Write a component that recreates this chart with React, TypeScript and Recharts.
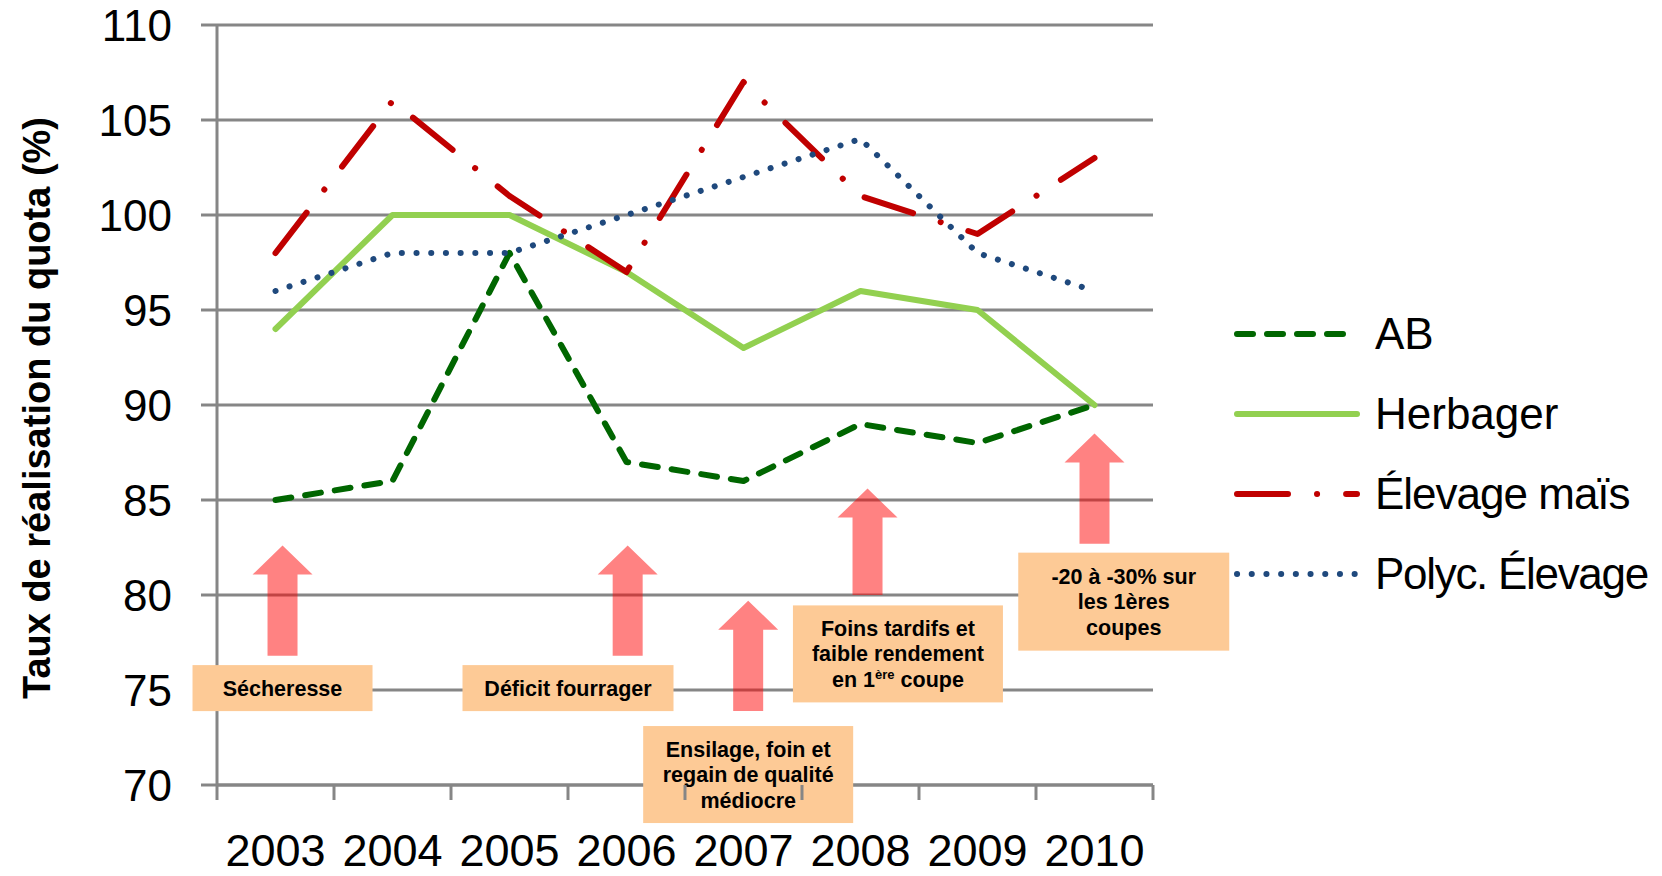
import React from "react";
import {
  LineChart,
  Line,
  XAxis,
  YAxis,
  CartesianGrid,
  ReferenceLine,
  ReferenceDot,
  Legend,
} from "recharts";

const years = ["2003", "2004", "2005", "2006", "2007", "2008", "2009", "2010"];
const ab = [85, 86, 98, 87, 86, 89, 88, 90];
const herbager = [94, 100, 100, 97, 93, 96, 95, 90];
const elevageMais = [98, 106, 101, 97, 107, 101, 99, 103];
const polycElevage = [96, 98, 98, 100, 102, 104, 98, 96];
const yTicks = [70, 75, 80, 85, 90, 95, 100, 105, 110];

// annotation texts ("^" marks a superscript part)
const noteTexts = [
  ["Sécheresse"],
  ["Déficit fourrager"],
  ["Ensilage, foin et", "regain de qualité", "médiocre"],
  ["Foins tardifs et", "faible rendement", "en 1^ère^ coupe"],
  ["-20 à -30% sur", "les 1ères", "coupes"],
];
// arrow anchors in data units: x position, tip value, tail value
const arrowX = [0.56, 3.51, 4.54, 5.56, 7.5];
const arrowTip = [82.6, 82.6, 79.7, 85.6, 88.5];
const arrowTail = [76.8, 76.8, 73.9, 80.0, 82.7];
// box centres in data units
const boxX = [0.56, 3.0, 4.54, 5.82, 7.75];
const boxY = [75.1, 75.1, 70.55, 76.9, 79.65];
const boxW = [180, 211, 210, 210, 211];
const boxH = [46, 46, 97, 97, 98];

const series = [
  { key: "ab", name: "AB", color: "#006600", dash: "16 14" },
  { key: "herbager", name: "Herbager", color: "#92D050", dash: undefined },
  { key: "elevageMais", name: "Élevage maïs", color: "#C00000", dash: "51 29 0.1 29" },
  { key: "polycElevage", name: "Polyc. Élevage", color: "#1F497D", dash: "0.1 14.6" },
];
// the original squeezes the É, so tighten those labels a bit
const legendSpacing: Record<string, number> = {
  elevageMais: -1,
  polycElevage: -1.3,
};

const data = years.map((year, i) => ({
  x: i + 0.5,
  year,
  ab: ab[i],
  herbager: herbager[i],
  elevageMais: elevageMais[i],
  polycElevage: polycElevage[i],
}));

const xTicks = Array.from({ length: 17 }, (_, i) => i / 2);

const FONT = "'Liberation Sans', Arial, sans-serif";
const GRID = "#868686";

function XTick({ x, y, payload }: any) {
  const v = payload.value;
  if (Number.isInteger(v)) {
    return <line x1={x} y1={y} x2={x} y2={y + 15} stroke={GRID} strokeWidth={3} />;
  }
  return (
    <text x={x} y={y + 81} textAnchor="middle" fontSize={45} fontFamily={FONT} fill="#000">
      {years[Math.floor(v)]}
    </text>
  );
}

function AxisTitle({ viewBox }: any) {
  const cx = viewBox.x + 37;
  const cy = viewBox.y + viewBox.height / 2 + 3;
  return (
    <text
      x={cx}
      y={cy}
      transform={`rotate(-90 ${cx} ${cy})`}
      textAnchor="middle"
      dy="0.35em"
      fontSize={38}
      fontWeight="bold"
      fontFamily={FONT}
      fill="#000"
    >
      Taux de réalisation du quota (%)
    </text>
  );
}

function Arrow({ x1, y1, y2 }: any) {
  const head = 29;
  const hw = 30;
  const sw = 15;
  const pts = [
    [x1, y1],
    [x1 + hw, y1 + head],
    [x1 + sw, y1 + head],
    [x1 + sw, y2],
    [x1 - sw, y2],
    [x1 - sw, y1 + head],
    [x1 - hw, y1 + head],
  ]
    .map((p) => p.join(","))
    .join(" ");
  return <polygon points={pts} fill="#FF0000" fillOpacity={0.49} />;
}

function NoteLine({ text, x, y }: any) {
  const parts = text.split("^");
  return (
    <text x={x} y={y} textAnchor="middle" dy="0.35em" fontSize={21.5} fontWeight="bold" fontFamily={FONT} fill="#000">
      {parts.length === 1 ? (
        text
      ) : (
        <>
          <tspan>{parts[0]}</tspan>
          <tspan fontSize={13} dy={-8}>{parts[1]}</tspan>
          <tspan dy={8}>{parts[2]}</tspan>
        </>
      )}
    </text>
  );
}

function NoteBox({ cx, cy, idx }: any) {
  const w = boxW[idx];
  const h = boxH[idx];
  const lines = noteTexts[idx];
  const lh = 25.5;
  return (
    <g>
      <rect x={cx - w / 2} y={cy - h / 2} width={w} height={h} fill="#FDCA96" />
      {lines.map((t, i) => (
        <NoteLine key={i} text={t} x={cx} y={cy + (i - (lines.length - 1) / 2) * lh} />
      ))}
    </g>
  );
}

function LegendBox() {
  return (
    <svg width={437} height={330}>
      {series.map((s, i) => {
        const y = 44 + i * 80;
        return (
          <g key={s.key}>
            <line
              x1={12}
              y1={y}
              x2={132}
              y2={y}
              stroke={s.color}
              strokeWidth={6}
              strokeLinecap="round"
              strokeDasharray={s.dash}
            />
            <text
              x={150}
              y={y}
              dy="0.35em"
              fontSize={44}
              fontFamily={FONT}
              fill="#000"
              letterSpacing={legendSpacing[s.key] ?? 0}
            >
              {s.name}
            </text>
          </g>
        );
      })}
    </svg>
  );
}

export default function App() {
  return (
    <div style={{ position: "absolute", left: 0, top: 0, background: "#fff" }}>
      <LineChart width={1662} height={876} data={data} margin={{ top: 25, right: 509, bottom: 0, left: 0 }}>
        <CartesianGrid horizontal vertical={false} stroke={GRID} strokeWidth={3} />
        <XAxis
          dataKey="x"
          type="number"
          domain={[0, 8]}
          ticks={xTicks}
          interval={0}
          height={91}
          tickSize={0}
          tickMargin={0}
          tickLine={false}
          axisLine={{ stroke: GRID, strokeWidth: 3 }}
          tick={<XTick />}
        />
        <YAxis
          type="number"
          domain={[70, 110]}
          ticks={yTicks}
          width={217}
          tickSize={16}
          tickMargin={29}
          tickLine={{ stroke: GRID, strokeWidth: 3 }}
          axisLine={{ stroke: GRID, strokeWidth: 3 }}
          tick={{ fill: "#000", fontSize: 44, fontFamily: FONT }}
          label={(props: any) => <AxisTitle {...props} />}
        />
        {arrowX.map((ax, i) => (
          <ReferenceLine
            key={`a${i}`}
            segment={[
              { x: ax, y: arrowTip[i] },
              { x: ax, y: arrowTail[i] },
            ]}
            ifOverflow="visible"
            shape={(p: any) => <Arrow {...p} />}
          />
        ))}
        {boxX.map((bx, i) => (
          <ReferenceDot
            key={`b${i}`}
            x={bx}
            y={boxY[i]}
            ifOverflow="visible"
            shape={(p: any) => <NoteBox {...p} idx={i} />}
          />
        ))}
        {series.map((s) => (
          <Line
            key={s.key}
            dataKey={s.key}
            name={s.name}
            type="linear"
            stroke={s.color}
            strokeWidth={6}
            strokeLinecap="round"
            strokeLinejoin="round"
            strokeDasharray={s.dash}
            dot={false}
            activeDot={false}
            isAnimationActive={false}
          />
        ))}
        <Legend
          layout="horizontal"
          verticalAlign="middle"
          align="center"
          width={437}
          height={330}
          wrapperStyle={{ left: 1225, top: 290, width: 437, height: 330 }}
          content={() => <LegendBox />}
        />
      </LineChart>
    </div>
  );
}
